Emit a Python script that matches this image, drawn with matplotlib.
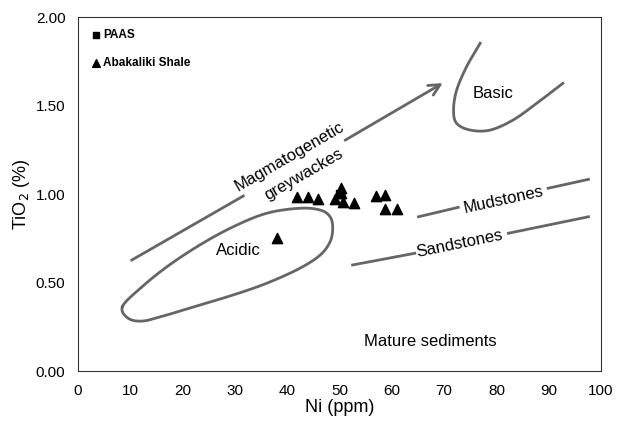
import numpy as np
import matplotlib.pyplot as plt

plt.rcParams['font.family'] = ['Liberation Sans', 'DejaVu Sans']

# samples (Ni ppm, TiO2 %)
shale_ni = [41.8, 44.0, 45.8, 49.1, 50.2, 50.2, 50.6, 52.8, 57.0, 58.7, 58.7, 60.9, 38.0]
shale_ti = [0.986, 0.986, 0.971, 0.971, 1.034, 1.005, 0.958, 0.949, 0.990, 0.996, 0.915, 0.915, 0.751]
paas_ni = [50.0]
paas_ti = [1.00]

# field outlines
acidic_x = [8.5, 11.9, 17.0, 23.3, 29.7, 36.1, 42.4, 46.3, 48.2, 48.7, 48.2, 46.3,
            42.4, 36.1, 29.7, 23.3, 17.0, 12.5, 9.6]
acidic_y = [0.366, 0.469, 0.591, 0.714, 0.817, 0.893, 0.921, 0.911, 0.873, 0.808, 0.732, 0.657,
            0.582, 0.498, 0.432, 0.375, 0.319, 0.285, 0.300]
basic_x = [76.9, 74.3, 72.4, 71.8, 72.4, 75.0, 78.8, 83.2, 87.7, 92.7]
basic_y = [1.852, 1.720, 1.588, 1.475, 1.400, 1.362, 1.362, 1.419, 1.513, 1.626]
grey_x = [10.3, 31.6, 50.6, 70.2]
grey_y = [0.629, 0.990, 1.297, 1.635]
mud_x = [65.1, 72.7, 89.9, 97.6]
mud_y = [0.873, 0.926, 1.034, 1.084]
sand_x = [52.5, 64.4, 82.3, 97.6]
sand_y = [0.601, 0.667, 0.780, 0.873]


def smooth(x, y, closed=False, n=20):
    # catmull-rom through the traced points
    p = np.column_stack([x, y])
    if closed:
        p = np.vstack([p[-1], p, p[0], p[1]])
    else:
        p = np.vstack([2 * p[0] - p[1], p, 2 * p[-1] - p[-2]])
    out = []
    t = np.linspace(0, 1, n, endpoint=False)[:, None]
    for i in range(1, len(p) - 2):
        p0, p1, p2, p3 = p[i - 1], p[i], p[i + 1], p[i + 2]
        out.append(0.5 * (2 * p1 + (-p0 + p2) * t + (2 * p0 - 5 * p1 + 4 * p2 - p3) * t ** 2
                          + (-p0 + 3 * p1 - 3 * p2 + p3) * t ** 3))
    out.append(p[-2][None, :])
    out = np.vstack(out)
    return out[:, 0], out[:, 1]


fig = plt.figure(figsize=(6.26, 4.21), dpi=100)
ax = fig.add_axes([0.1246, 0.1176, 0.8355, 0.842])

lc = '#666666'
lw = 2.0
ax.plot(*smooth(acidic_x, acidic_y, closed=True), color=lc, lw=lw)
ax.plot(*smooth(basic_x, basic_y), color=lc, lw=lw)
ax.plot(grey_x[:2], grey_y[:2], color=lc, lw=lw)
ax.annotate('', xy=(grey_x[3], grey_y[3]), xytext=(grey_x[2], grey_y[2]),
            arrowprops=dict(arrowstyle='->', color=lc, lw=lw, mutation_scale=20))
ax.plot(mud_x[:2], mud_y[:2], color=lc, lw=lw)
ax.plot(mud_x[2:], mud_y[2:], color=lc, lw=lw)
ax.plot(sand_x[:2], sand_y[:2], color=lc, lw=lw)
ax.plot(sand_x[2:], sand_y[2:], color=lc, lw=lw)

ax.scatter(paas_ni, paas_ti, marker='s', s=40, color='black', label='PAAS', zorder=3)
ax.scatter(shale_ni, shale_ti, marker='^', s=55, color='black', label='Abakaliki Shale', zorder=3)

fs = 12
ax.text(40.5, 1.21, 'Magmatogenetic', rotation=30, ha='center', va='center', fontsize=fs)
ax.text(43.1, 1.109, 'greywackes', rotation=30, ha='center', va='center', fontsize=fs)
ax.text(79.4, 1.57, 'Basic', ha='center', va='center', fontsize=fs)
ax.text(30.7, 0.685, 'Acidic', ha='center', va='center', fontsize=fs)
ax.text(81.3, 0.968, 'Mudstones', rotation=12.4, ha='center', va='center', fontsize=fs)
ax.text(73.0, 0.723, 'Sandstones', rotation=11.6, ha='center', va='center', fontsize=fs)
ax.text(67.3, 0.169, 'Mature sediments', ha='center', va='center', fontsize=fs)

ax.set_xlim(0, 100)
ax.set_ylim(0, 2.0)
ax.set_xticks(range(0, 101, 10))
ax.set_yticks([0, 0.5, 1.0, 1.5, 2.0])
ax.set_yticklabels(['0.00', '0.50', '1.00', '1.50', '2.00'])
ax.tick_params(length=0, labelsize=11, pad=9)
for s in ax.spines.values():
    s.set_color('#333333')
ax.set_xlabel('Ni (ppm)', fontsize=13, labelpad=1)
ax.set_ylabel('TiO$_2$ (%)', fontsize=13, labelpad=3)

leg = ax.legend(loc='upper left', frameon=False, prop={'weight': 'bold', 'size': 8.5},
                handletextpad=0.1, handlelength=1.0, borderaxespad=0.6, labelspacing=1.4,
                markerscale=0.75)

fig.savefig('out.png', dpi=100)
